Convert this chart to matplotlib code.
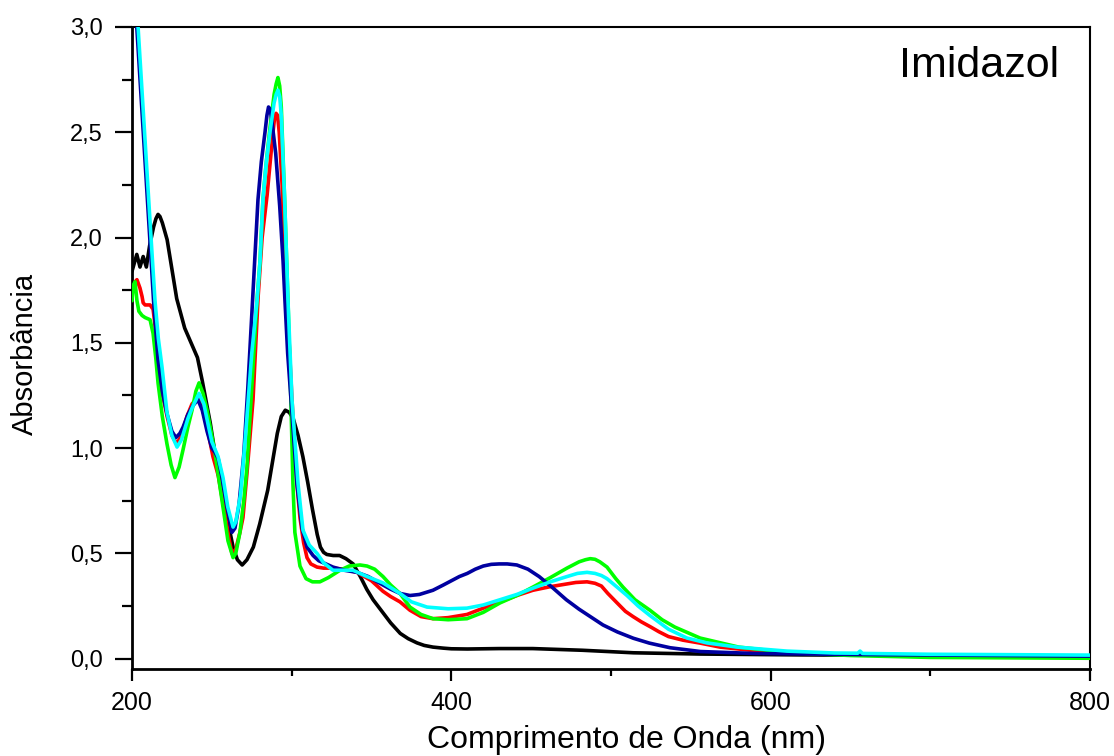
import matplotlib
matplotlib.use("Agg")
import matplotlib.pyplot as plt
from matplotlib.ticker import MultipleLocator, FuncFormatter

plt.rcParams['font.family'] = ['Liberation Sans', 'DejaVu Sans']

# ---- data ----
black_x = [200, 203, 205, 207, 209, 211, 213.5, 215, 216.3, 217.5, 219, 222, 225, 228, 233, 237, 241, 244, 249,
           254, 259.5, 263.3, 266, 269, 272, 276, 280, 285, 289, 291, 293.5, 296, 298.5, 301, 304, 307, 310,
           313, 316, 318, 320, 322, 326, 330, 334, 338.5, 343, 347, 351, 357, 362, 368, 373, 378.5, 383,
           388.5, 395, 400, 410, 430, 451, 482, 514, 556, 618, 700, 800]
black_y = [1.84, 1.92, 1.86, 1.91, 1.86, 1.96, 2.05, 2.09, 2.11, 2.10, 2.07, 1.99, 1.85, 1.71, 1.57, 1.50, 1.43,
           1.32, 1.12, 0.88, 0.67, 0.53, 0.47, 0.445, 0.47, 0.53, 0.64, 0.80, 0.98, 1.07, 1.15, 1.18, 1.17,
           1.14, 1.06, 0.96, 0.84, 0.71, 0.59, 0.53, 0.505, 0.495, 0.49, 0.49, 0.475, 0.45, 0.39, 0.33, 0.28,
           0.22, 0.17, 0.12, 0.095, 0.075, 0.063, 0.055, 0.05, 0.047, 0.046, 0.048, 0.048, 0.04, 0.028, 0.022,
           0.018, 0.015, 0.012]

red_x = [200, 202, 203.1, 205, 206.3, 207, 208.2, 211.3, 213.2, 214.5, 216.3, 219, 222, 225, 228, 231, 234.4,
         237.6, 241.3, 244, 247, 250.7, 254, 256.5, 258.2, 260.5, 262.6, 265, 267.6, 269.5, 272, 275.8, 279,
         281.5, 284.6, 288.3, 289.2, 290.2, 291.2, 292.2, 294, 295.5, 297.1, 300.2, 303.3, 305.2, 307.5, 309.6,
         312, 315.9, 320, 325.9, 333, 341, 350, 357.2, 362, 367.8, 374.1, 381, 388.5, 398, 409.8, 420, 430.5,
         441, 451.1, 462, 472.4, 478, 485, 490, 494, 498, 503.8, 509, 513.8, 519, 525, 530, 536, 545, 555.8,
         568.3, 590, 610, 650, 700, 800]
red_y = [1.74, 1.79, 1.80, 1.76, 1.72, 1.69, 1.68, 1.68, 1.66, 1.58, 1.39, 1.26, 1.15, 1.06, 1.02, 1.06, 1.15,
         1.21, 1.24, 1.19, 1.10, 0.96, 0.87, 0.76, 0.69, 0.58, 0.50, 0.52, 0.60, 0.67, 0.88, 1.23, 1.72, 2.00,
         2.20, 2.50, 2.56, 2.59, 2.58, 2.50, 2.25, 1.90, 1.70, 1.23, 0.83, 0.67, 0.55, 0.48, 0.45, 0.435,
         0.43, 0.43, 0.425, 0.41, 0.37, 0.32, 0.295, 0.27, 0.23, 0.20, 0.19, 0.195, 0.21, 0.24, 0.27, 0.30,
         0.325, 0.342, 0.355, 0.362, 0.365, 0.358, 0.345, 0.31, 0.265, 0.225, 0.20, 0.175, 0.15, 0.128, 0.105,
         0.088, 0.074, 0.055, 0.038, 0.028, 0.02, 0.016, 0.012]

blue_x = [200, 203, 206, 209, 212, 213.5, 216.3, 219, 222, 225, 227.5, 230, 232, 235, 238, 241.3, 244, 247,
          250, 252, 254, 256.4, 259.5, 262.6, 264.5, 267, 270, 272.5, 275.5, 278.9, 281, 283.3, 284.5, 285.5,
          286.5, 287.5, 290, 292.5, 294.6, 295.8, 297.5, 299.6, 303.3, 306.5, 309.6, 313.4, 317, 325.9, 333,
          340.9, 348, 357.2, 362, 367.8, 374.1, 380, 388.5, 395, 400, 405, 410, 415, 420, 425, 430, 435, 441,
          448, 455, 463, 472, 480, 487, 495, 504, 514, 524, 537, 556, 589, 651.6, 800]
blue_y = [3.38, 3.00, 2.63, 2.26, 1.89, 1.70, 1.42, 1.27, 1.16, 1.08, 1.05, 1.07, 1.10, 1.16, 1.20, 1.23,
          1.18, 1.08, 1.00, 0.98, 0.95, 0.86, 0.72, 0.60, 0.62, 0.73, 0.97, 1.28, 1.70, 2.18, 2.36, 2.50,
          2.58, 2.62, 2.61, 2.56, 2.40, 2.15, 1.89, 1.70, 1.45, 1.23, 0.83, 0.62, 0.53, 0.49, 0.465, 0.435,
          0.42, 0.41, 0.39, 0.35, 0.33, 0.31, 0.30, 0.305, 0.325, 0.35, 0.37, 0.39, 0.405, 0.425, 0.44, 0.448,
          0.45, 0.45, 0.445, 0.425, 0.39, 0.34, 0.28, 0.235, 0.20, 0.16, 0.127, 0.097, 0.074, 0.052, 0.034,
          0.025, 0.02, 0.012]

green_x = [200, 200.6, 201.9, 203.1, 204.3, 206.3, 208.2, 211.3, 213.2, 215, 216.3, 219, 221.9, 224.5, 226.9,
           229.5, 231.9, 235, 237.6, 240, 242, 244.5, 247, 249.5, 252, 256.4, 260.1, 263.3, 265, 267.6, 270,
           272, 275.8, 278.3, 280.2, 282, 284, 286.4, 289, 290.3, 291.4, 292.5, 293.5, 295.5, 297.7, 299.5,
           300.8, 302, 305.2, 309, 313, 317.7, 323, 330.3, 336, 342.8, 347.2, 352, 357.2, 362, 367.8, 374.1,
           381, 388.5, 398, 409.8, 420, 430.5, 441, 451.1, 462, 472.4, 480, 484, 487, 490, 493, 497.5, 503,
           507.5, 515, 524.4, 532, 540, 555.8, 580, 610, 650, 700, 800]
green_y = [1.70, 1.77, 1.79, 1.70, 1.65, 1.63, 1.62, 1.61, 1.545, 1.42, 1.31, 1.15, 1.02, 0.92, 0.86, 0.91,
           0.99, 1.10, 1.18, 1.27, 1.31, 1.26, 1.18, 1.08, 0.975, 0.75, 0.56, 0.48, 0.50, 0.60, 0.75, 0.91,
           1.385, 1.70, 1.89, 2.18, 2.35, 2.52, 2.68, 2.73, 2.76, 2.72, 2.62, 2.20, 1.70, 1.23, 0.83, 0.60,
           0.44, 0.38, 0.365, 0.365, 0.385, 0.42, 0.44, 0.445, 0.44, 0.425, 0.39, 0.35, 0.31, 0.245, 0.21,
           0.19, 0.185, 0.19, 0.22, 0.265, 0.30, 0.34, 0.385, 0.43, 0.46, 0.47, 0.475, 0.472, 0.46, 0.435,
           0.38, 0.34, 0.28, 0.23, 0.185, 0.15, 0.098, 0.055, 0.03, 0.015, 0.006, 0.002]

cyan_x = [200, 203.8, 206, 209, 212, 214.4, 216.5, 218.8, 221.9, 225, 228.2, 231, 233, 235, 237.6, 242, 245,
          248, 250, 253.9, 257, 260, 263.3, 265, 268, 271, 275, 278.3, 280.2, 282, 284, 286.4, 289, 290.3,
          291.4, 292.5, 293.5, 295.5, 297.7, 300.2, 304, 307.1, 311, 315.9, 320, 325.9, 333, 338.4, 347.2,
          357.2, 367.8, 375, 384.8, 398, 409.8, 420, 430.5, 441, 451.1, 462, 472.4, 479, 485, 490, 494, 497.5,
          503.8, 510, 517, 524.4, 536, 547.6, 560, 579, 610.2, 640, 654.5, 656, 657.5, 700, 800]
cyan_y = [3.47, 3.00, 2.73, 2.36, 1.99, 1.70, 1.52, 1.385, 1.17, 1.06, 1.005, 1.04, 1.09, 1.14, 1.19, 1.26,
          1.21, 1.10, 1.03, 0.96, 0.86, 0.72, 0.625, 0.65, 0.78, 1.05, 1.45, 1.70, 1.89, 2.18, 2.35, 2.50,
          2.64, 2.68, 2.70, 2.67, 2.58, 2.20, 1.70, 1.23, 0.83, 0.61, 0.54, 0.50, 0.455, 0.42, 0.42, 0.42,
          0.39, 0.36, 0.31, 0.27, 0.245, 0.237, 0.24, 0.255, 0.28, 0.305, 0.335, 0.365, 0.39, 0.405, 0.41,
          0.405, 0.395, 0.38, 0.34, 0.30, 0.25, 0.205, 0.14, 0.098, 0.075, 0.055, 0.036, 0.027, 0.026, 0.036,
          0.025, 0.021, 0.017]

x_ticks = [200, 400, 600, 800]
y_ticks = [0.0, 0.5, 1.0, 1.5, 2.0, 2.5, 3.0]

# ---- figure ----
fig = plt.figure(figsize=(11.14, 7.56), dpi=100)
ax = fig.add_axes([132/1114, 1 - 669/756, 958/1114, 642/756])

lw = 2.6
kw = dict(lw=lw, solid_joinstyle='round', solid_capstyle='round')
ax.plot(black_x, black_y, color='black', zorder=3, **kw)
ax.plot(red_x, red_y, color='#FF0000', zorder=4, **kw)
ax.plot(green_x, green_y, color='#00FF00', zorder=5, **kw)
ax.plot(blue_x, blue_y, color='#0000A0', zorder=6, **kw)
ax.plot(cyan_x, cyan_y, color='#00FFFF', zorder=7, **kw)

ax.set_xlim(200, 800)
ax.set_ylim(-0.049, 3.0)

ax.set_xticks(x_ticks)
ax.xaxis.set_minor_locator(MultipleLocator(100))
ax.set_yticks(y_ticks)
ax.yaxis.set_minor_locator(MultipleLocator(0.25))
ax.yaxis.set_major_formatter(FuncFormatter(lambda v, p: f"{v:.1f}".replace('.', ',')))

ax.tick_params(axis='y', which='major', direction='out', length=12, width=1.6, labelsize=17, pad=9)
ax.tick_params(axis='y', which='minor', direction='out', length=7, width=1.6)
ax.tick_params(axis='x', which='major', direction='out', length=8.5, width=1.6, labelsize=18, pad=7)
ax.tick_params(axis='x', which='minor', direction='out', length=5, width=1.6)

for side in ['left', 'bottom']:
    ax.spines[side].set_linewidth(2.0)
for side in ['top', 'right']:
    ax.spines[side].set_linewidth(1.5)

ax.set_xlabel("Comprimento de Onda (nm)", fontsize=23)
ax.xaxis.label.set_verticalalignment('baseline')
ax.xaxis.set_label_coords(0.516, (669 - 748) / 642)

ax.set_ylabel("Absorbância", fontsize=21)
ax.yaxis.label.set_verticalalignment('baseline')
ax.yaxis.set_label_coords((33 - 132) / 958, 0.49)

ax.text(0.884, (669 - 77) / 642, "Imidazol", transform=ax.transAxes,
        ha='center', va='baseline', fontsize=31)

fig.savefig("out.png", dpi=100)
